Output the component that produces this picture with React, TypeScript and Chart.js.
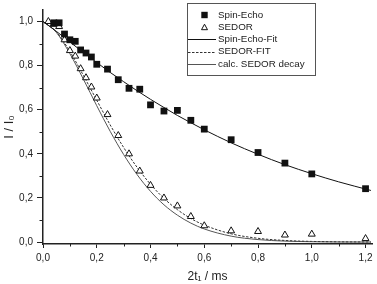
import React, { useEffect, useRef } from "react";
import { Chart, registerables } from "chart.js";

Chart.register(...registerables);

// ---- data ----
const spinEchoT = [0.04, 0.06, 0.08, 0.1, 0.12, 0.14, 0.16, 0.18, 0.2, 0.24, 0.28, 0.32, 0.36, 0.4, 0.45, 0.5, 0.55, 0.6, 0.7, 0.8, 0.9, 1.0, 1.2];
const spinEchoI = [0.994, 0.994, 0.943, 0.917, 0.91, 0.871, 0.857, 0.839, 0.806, 0.784, 0.736, 0.697, 0.693, 0.622, 0.594, 0.597, 0.552, 0.512, 0.464, 0.406, 0.358, 0.309, 0.242];

const sedorT = [0.02, 0.04, 0.06, 0.08, 0.1, 0.12, 0.14, 0.16, 0.18, 0.2, 0.24, 0.28, 0.32, 0.36, 0.4, 0.45, 0.5, 0.55, 0.6, 0.7, 0.8, 0.9, 1.0, 1.2];
const sedorI = [1.0, 0.987, 0.977, 0.917, 0.868, 0.843, 0.786, 0.745, 0.703, 0.653, 0.578, 0.483, 0.4, 0.322, 0.257, 0.2, 0.164, 0.116, 0.074, 0.051, 0.048, 0.032, 0.036, 0.016];

const fitT = [0, 0.05, 0.1, 0.15, 0.2, 0.25, 0.3, 0.35, 0.4, 0.45, 0.5, 0.55, 0.6, 0.7, 0.8, 0.9, 1.0, 1.1, 1.22];
const spinEchoFit = [1, 0.955, 0.907, 0.86, 0.814, 0.769, 0.727, 0.686, 0.647, 0.61, 0.574, 0.541, 0.509, 0.45, 0.398, 0.351, 0.31, 0.273, 0.234];
const sedorFit = [1, 0.953, 0.864, 0.756, 0.643, 0.531, 0.429, 0.339, 0.262, 0.198, 0.147, 0.107, 0.077, 0.0375, 0.0172, 0.0074, 0.003, 0.0012, 0.0004];
const calcSedor = [1, 0.95, 0.854, 0.739, 0.618, 0.502, 0.397, 0.306, 0.23, 0.169, 0.122, 0.086, 0.0595, 0.0269, 0.0113, 0.0044, 0.0016, 0.0005, 0.0001];

const xMajorTicks = [0, 0.2, 0.4, 0.6, 0.8, 1.0, 1.2];
const xMinorTicks = [0.1, 0.3, 0.5, 0.7, 0.9, 1.1];
const yMajorTicks = [0, 0.2, 0.4, 0.6, 0.8, 1.0];
const yMinorTicks = [0.1, 0.3, 0.5, 0.7, 0.9];

const seriesLabels = ["Spin-Echo", "SEDOR", "Spin-Echo-Fit", "SEDOR-FIT", "calc. SEDOR decay"];
const xTitle = "2t₁ / ms";
const yTitle = "I / I₀";

const FONT = "'Liberation Sans', Arial, Helvetica, sans-serif";
const INK = "#222";

const zip = (xs: number[], ys: number[]) => xs.map((x, i) => ({ x, y: ys[i] }));
const fmt = (v: number) => Number(v).toFixed(1).replace(".", ",");

const minorTicksPlugin = {
  id: "minorTicks",
  afterDraw(chart: any) {
    const { ctx, chartArea, scales } = chart;
    ctx.save();
    ctx.strokeStyle = INK;
    ctx.lineWidth = 1;
    ctx.beginPath();
    for (const v of xMinorTicks) {
      const px = Math.round(scales.x.getPixelForValue(v)) + 0.5;
      ctx.moveTo(px, chartArea.bottom);
      ctx.lineTo(px, chartArea.bottom + 2.5);
    }
    for (const v of yMinorTicks) {
      const py = Math.round(scales.y.getPixelForValue(v)) + 0.5;
      ctx.moveTo(chartArea.left - 3.5, py);
      ctx.lineTo(chartArea.left, py);
    }
    ctx.stroke();
    // rotated y-axis title
    ctx.save();
    ctx.translate(9, 127);
    ctx.rotate(-Math.PI / 2);
    ctx.font = `13px ${FONT}`;
    ctx.fillStyle = INK;
    ctx.textAlign = "center";
    ctx.textBaseline = "middle";
    ctx.fillText(yTitle, 0, 0);
    ctx.restore();
    ctx.restore();
  },
};

const boxLegendPlugin = {
  id: "boxLegend",
  afterDraw(chart: any) {
    const ctx = chart.ctx;
    const left = 187.5;
    const top = 3.5;
    const w = 128;
    const h = 72;
    ctx.save();
    ctx.fillStyle = "#fff";
    ctx.fillRect(left, top, w, h);
    ctx.strokeStyle = "#555";
    ctx.lineWidth = 1;
    ctx.strokeRect(left, top, w, h);
    ctx.font = `9.8px ${FONT}`;
    ctx.textBaseline = "middle";
    ctx.textAlign = "left";
    chart.data.datasets.forEach((ds: any, i: number) => {
      const cy = 15 + i * 12.2;
      if (ds.showLine === false) {
        const cx = 204.5;
        if (ds.pointStyle === "rect") {
          ctx.fillStyle = "#111";
          ctx.fillRect(cx - 3.2, cy - 3.2, 6.4, 6.4);
        } else {
          ctx.beginPath();
          ctx.moveTo(cx - 3, cy + 2.5);
          ctx.lineTo(cx + 3, cy + 2.5);
          ctx.lineTo(cx, cy - 3);
          ctx.closePath();
          ctx.strokeStyle = "#111";
          ctx.stroke();
        }
      } else {
        ctx.beginPath();
        ctx.strokeStyle = ds.borderColor;
        ctx.lineWidth = 1;
        ctx.setLineDash(ds.borderDash || []);
        ctx.moveTo(188, Math.round(cy) + 0.5);
        ctx.lineTo(216, Math.round(cy) + 0.5);
        ctx.stroke();
        ctx.setLineDash([]);
      }
      ctx.fillStyle = INK;
      ctx.fillText(ds.label, 218, cy);
    });
    ctx.restore();
  },
};

export default function App() {
  const canvasRef = useRef<HTMLCanvasElement | null>(null);

  useEffect(() => {
    if (!canvasRef.current) return;
    const chart = new Chart(canvasRef.current, {
      type: "line",
      data: {
        datasets: [
          {
            label: seriesLabels[0],
            data: zip(spinEchoT, spinEchoI),
            showLine: false,
            pointStyle: "rect",
            pointRadius: 4.8,
            pointBackgroundColor: "#111",
            pointBorderColor: "#111",
            pointBorderWidth: 0,
            order: 0,
          },
          {
            label: seriesLabels[1],
            data: zip(sedorT, sedorI),
            showLine: false,
            pointStyle: "triangle",
            pointRadius: 4,
            pointBackgroundColor: "#fff",
            pointBorderColor: "#111",
            pointBorderWidth: 1,
            order: 0,
          },
          {
            label: seriesLabels[2],
            data: zip(fitT, spinEchoFit),
            borderColor: "#111",
            borderWidth: 1,
            pointRadius: 0,
            cubicInterpolationMode: "monotone",
            order: 1,
          },
          {
            label: seriesLabels[3],
            data: zip(fitT, sedorFit),
            borderColor: "#333",
            borderWidth: 1,
            borderDash: [2.5, 1.5],
            pointRadius: 0,
            cubicInterpolationMode: "monotone",
            order: 1,
          },
          {
            label: seriesLabels[4],
            data: zip(fitT, calcSedor),
            borderColor: "#555",
            borderWidth: 1,
            pointRadius: 0,
            cubicInterpolationMode: "monotone",
            order: 1,
          },
        ],
      },
      options: {
        responsive: false,
        animation: false,
        layout: { padding: 0 },
        plugins: {
          legend: { display: false },
          tooltip: { enabled: false },
        },
        scales: {
          x: {
            type: "linear",
            min: 0,
            max: 1.224,
            afterBuildTicks: (s: any) => {
              s.ticks = xMajorTicks.map((v) => ({ value: v }));
            },
            afterFit: (s: any) => {
              s.height = 40;
            },
            ticks: {
              callback: (v: any) => fmt(v),
              font: { size: 10, family: FONT },
              color: INK,
              padding: 4,
              maxRotation: 0,
              autoSkip: false,
            },
            grid: { drawOnChartArea: false, drawTicks: true, tickLength: 4, color: INK, lineWidth: 1 },
            border: { display: true, color: INK, width: 1.5 },
            title: { display: true, text: xTitle, font: { size: 12, family: FONT }, color: INK, padding: 0 },
          },
          y: {
            type: "linear",
            min: -0.0087,
            max: 1.052,
            afterBuildTicks: (s: any) => {
              s.ticks = yMajorTicks.map((v) => ({ value: v }));
            },
            afterFit: (s: any) => {
              s.width = 43;
            },
            ticks: {
              callback: (v: any) => fmt(v),
              font: { size: 10, family: FONT },
              color: INK,
              padding: 4,
              autoSkip: false,
            },
            grid: { drawOnChartArea: false, drawTicks: true, tickLength: 6, color: INK, lineWidth: 1 },
            border: { display: true, color: INK, width: 1.5 },
          },
        },
      },
      plugins: [minorTicksPlugin, boxLegendPlugin],
    } as any);
    return () => chart.destroy();
  }, []);

  return (
    <div style={{ position: "absolute", left: 0, top: 0, width: 377, height: 284, background: "#fff" }}>
      <canvas ref={canvasRef} width={377} height={284} />
    </div>
  );
}
